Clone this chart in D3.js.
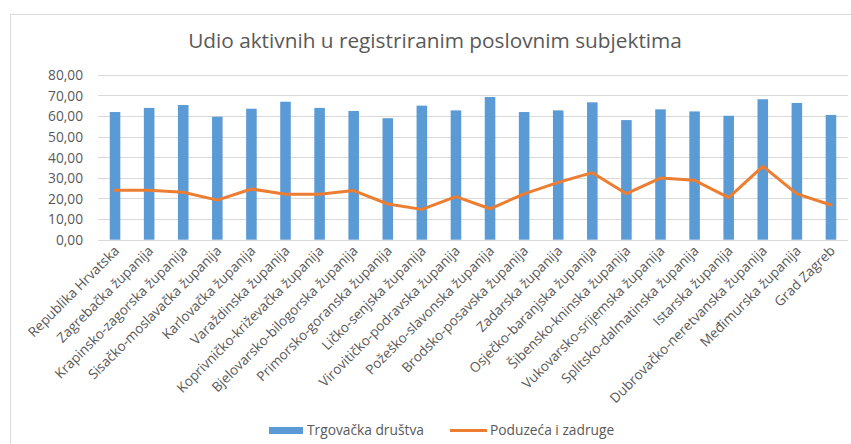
<!DOCTYPE html>
<html><head><meta charset="utf-8">
<script src="https://cdn.jsdelivr.net/npm/d3@7"></script>
<style>body{margin:0;background:#fff}svg{display:block}text{font-family:"Open Sans",sans-serif;fill:#595959}</style>
</head><body>
<svg id="c" width="851" height="444"></svg>
<script>
const categories = ["Republika Hrvatska","Zagrebačka županija","Krapinsko-zagorska županija","Sisačko-moslavačka županija","Karlovačka županija","Varaždinska županija","Koprivničko-križevačka županija","Bjelovarsko-bilogorska županija","Primorsko-goranska županija","Ličko-senjska županija","Virovitičko-podravska županija","Požeško-slavonska županija","Brodsko-posavska županija","Zadarska županija","Osječko-baranjska županija","Šibensko-kninska županija","Vukovarsko-srijemska županija","Splitsko-dalmatinska županija","Istarska županija","Dubrovačko-neretvanska županija","Međimurska županija","Grad Zagreb"];
const trgovackaDrustva = [61.9,63.9,65.3,59.6,63.5,66.9,63.9,62.4,58.9,65.0,62.7,69.2,61.9,62.7,66.6,58.0,63.2,62.2,60.1,68.1,66.3,60.5];
const poduzecaIZadruge = [24.0,24.0,23.0,19.2,24.6,22.0,22.0,23.8,17.3,14.7,20.9,15.0,22.2,27.8,32.5,22.3,29.9,28.8,20.4,35.6,22.2,16.8];
const yTicks = [0,10,20,30,40,50,60,70,80];
const title = "Udio aktivnih u registriranim poslovnim subjektima";
const seriesNames = ["Trgovačka društva","Poduzeća i zadruge"];

const svg = d3.select("#c");
const L = 98, R = 848, T = 74.7, B = 239.7;
const x = d3.scaleBand().domain(categories).range([L, R]).paddingInner(0.69).paddingOuter(0.345);
const y = d3.scaleLinear().domain([0, 80]).range([B, T]);
const fmt = d => d.toFixed(2).replace(".", ",");

function fit(sel, w) {
  const len = sel.node().getComputedTextLength();
  const fs = parseFloat(sel.attr("font-size"));
  sel.attr("font-size", fs * w / len);
  return fs * w / len;
}

// border
svg.append("rect").attr("x", 10.5).attr("y", 14.5).attr("width", 860).attr("height", 460)
  .attr("fill", "none").attr("stroke", "#D9D9D9").attr("stroke-width", 1);

// title
const t = svg.append("text").attr("x", 435).attr("y", 48).attr("text-anchor", "middle")
  .attr("font-size", 20).text(title);
fit(t, 494);

// gridlines
svg.append("g").selectAll("line").data(yTicks).join("line")
  .attr("x1", L).attr("x2", R).attr("y1", d => Math.round(y(d)) + 0.5).attr("y2", d => Math.round(y(d)) + 0.5)
  .attr("stroke", "#D9D9D9").attr("stroke-width", 1);

// y axis
const ya = svg.append("g").attr("transform", `translate(${L},0)`)
  .call(d3.axisLeft(y).tickValues(yTicks).tickFormat(fmt).tickSize(0).tickPadding(15));
ya.select(".domain").remove();
ya.selectAll("text").attr("font-size", 13.5).attr("font-family", "'Open Sans',sans-serif").attr("fill", "#595959").attr("dy", "0.35em");
const t80 = ya.selectAll("text").filter(d => d === 80);
const fsY = fit(t80, 35);
ya.selectAll("text").attr("font-size", fsY);

// bars
svg.append("g").selectAll("rect").data(categories).join("rect")
  .attr("x", d => x(d)).attr("width", x.bandwidth())
  .attr("y", (d, i) => y(trgovackaDrustva[i])).attr("height", (d, i) => y(0) - y(trgovackaDrustva[i]))
  .attr("fill", "#5B9BD5");

// line
const line = d3.line().x((d, i) => x(categories[i]) + x.bandwidth() / 2).y(d => y(d));
svg.append("path").datum(poduzecaIZadruge).attr("d", line)
  .attr("fill", "none").attr("stroke", "#ED7D31").attr("stroke-width", 3).attr("stroke-linejoin", "round").attr("stroke-linecap", "round");

// x axis labels
const xa = svg.append("g").attr("transform", `translate(0,${B})`)
  .call(d3.axisBottom(x).tickSize(0).tickPadding(0));
xa.select(".domain").remove();
xa.selectAll("text").attr("font-size", 13).attr("font-family", "'Open Sans',sans-serif").attr("fill", "#595959")
  .attr("text-anchor", "end").attr("dy", null).attr("y", 0)
  .attr("transform", "translate(5,12) rotate(-45)");
const first = xa.selectAll("text").filter(d => d === categories[0]);
const fsX = fit(first, 122);
xa.selectAll("text").attr("font-size", fsX);

// legend
const lg = svg.append("g");
lg.append("rect").attr("x", 269).attr("y", 427).attr("width", 34).attr("height", 7).attr("fill", "#5B9BD5");
const l1 = lg.append("text").attr("x", 307).attr("y", 435).attr("font-size", 14).text(seriesNames[0]);
const fsL = fit(l1, 117);
lg.append("line").attr("x1", 450).attr("x2", 487).attr("y1", 430.5).attr("y2", 430.5).attr("stroke", "#ED7D31").attr("stroke-width", 3);
lg.append("text").attr("x", 490).attr("y", 435).attr("font-size", fsL).text(seriesNames[1]);
</script>
</body></html>
